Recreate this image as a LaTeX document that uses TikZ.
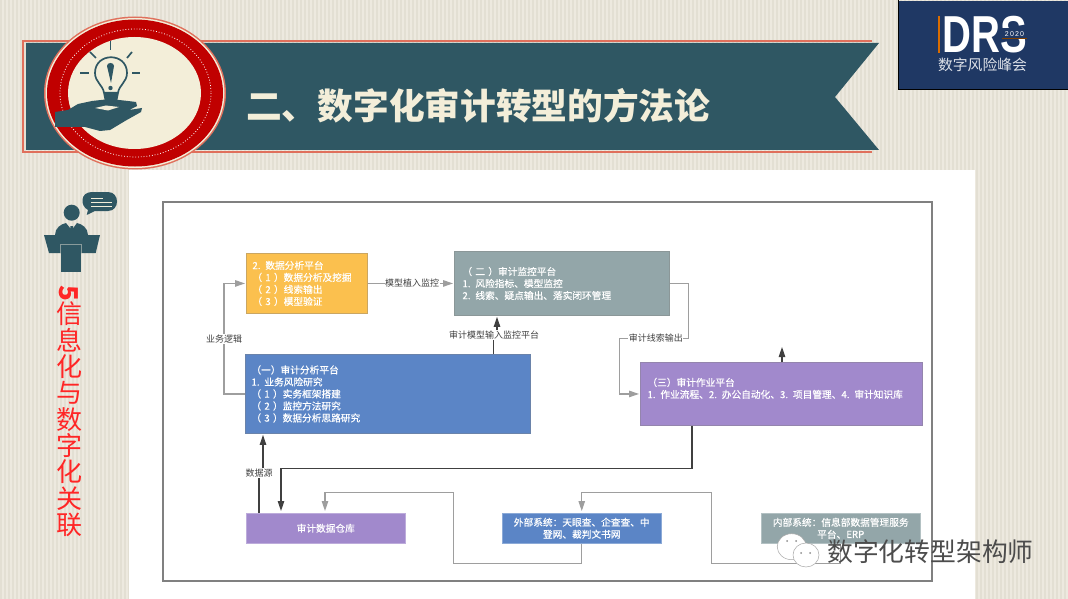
\documentclass[tikz,border=0pt]{standalone}
\usepackage{fontspec}
\setmainfont{Noto Sans CJK SC}
\newfontfamily\boxfont[FakeBold=0.5]{Noto Sans CJK SC}
\newfontfamily\logofont{Liberation Sans}
\usetikzlibrary{arrows.meta}
\definecolor{paper}{HTML}{EDE9DF}
\definecolor{paperline}{HTML}{E3DFD3}
\definecolor{teal}{HTML}{2F5763}
\definecolor{cream}{HTML}{F3EED9}
\definecolor{ribbon}{HTML}{E0705C}
\definecolor{seal}{HTML}{C00000}
\definecolor{navy}{HTML}{1F3864}
\definecolor{amber}{HTML}{FBC04E}
\definecolor{slate}{HTML}{93A6A9}
\definecolor{cobalt}{HTML}{5B85C6}
\definecolor{violet}{HTML}{A189CC}
\tikzset{
	flowbox/.style={draw=#1!60!gray, fill=#1, line width=0.9pt, anchor=north west, inner xsep=6pt, inner ysep=0pt, align=left, text=white, font=\boxfont\fontsize{9.7}{12}\selectfont},
	flatbox/.style={fill=#1, draw=#1!70!white, line width=0.5pt, anchor=north west, inner sep=0pt, align=center, text=white, font=\boxfont\fontsize{9.7}{12}\selectfont},
	linelabel/.style={fill=white, inner xsep=0.5pt, inner ysep=1pt, text=black!75, font=\fontsize{9}{11}\selectfont},
	greylink/.style={draw=black!38, line width=1.1pt, -{Triangle[length=10pt,width=6.5pt]}},
	darklink/.style={draw=black!75, line width=1.1pt, -{Triangle[length=10pt,width=6.5pt]}},
	ray/.style={draw=teal, line width=1.7pt}
}
\begin{document}
\begin{tikzpicture}[x=1pt,y=-1pt]
	\useasboundingbox (0,0) rectangle (1068,599);
	\fill[paper] (0,0) rectangle (1068,599);
	\foreach \x in {0,4,...,1064} {
			\fill[paperline] (\x,0) rectangle ++(2,599);
		}
	\fill[white] (129,170) rectangle (975,599);

	\draw[ribbon, line width=1.5pt] (872,41) -- (23,41) -- (23,152) -- (872,152);
	\fill[teal] (26,43) -- (879,43) -- (835,97) -- (879,150) -- (26,150) -- cycle;
	\node[anchor=west, inner sep=0pt, text=cream, font=\fontsize{35.7}{40}\selectfont\bfseries] (title) at (246,106) {二、数字化审计转型的方法论};

	\fill[ribbon] (135,93) ellipse [x radius=91, y radius=76.5];
	\fill[cream] (135,93) ellipse [x radius=89.5, y radius=75];
	\fill[seal] (135,93) ellipse [x radius=88, y radius=73.5];
	\draw[white, line width=0.8pt, dotted] (135.5,93) ellipse [x radius=75.5, y radius=64];
	\fill[cream] (134.5,93) ellipse [x radius=66.5, y radius=56];

	\draw[ray] (110.5,41) -- (110.5,50);
	\draw[ray] (90,52) -- (96,58);
	\draw[ray] (132,52) -- (127,58);
	\draw[ray] (80,73) -- (89,73);
	\draw[ray] (132,73) -- (140,73);
	\draw[ray] (104,93) .. controls (103,85) and (95,82) .. (95,73) .. controls (95,52) and (127,52) .. (127,73) .. controls (127,82) and (119,85) .. (118,93);
	\fill[teal] (107,66) .. controls (107,62) and (114,62) .. (114,66) -- (111,83) -- cycle;
	\fill[teal] (110.5,88) circle (2.2);
	\fill[teal] (103,92) -- (119,92) -- (117,102) -- (105,102) -- cycle;
	\fill[teal] (55,112) -- (68,110) -- (78,104) -- (92,101) -- (110,99) -- (128,101) -- (136,102) -- (137,106) -- (129,110) -- (142,108) -- (141,112) -- (125,121) -- (110,130) -- (100,131) -- (85,127) -- (72,127) -- (55,127) -- cycle;
	\fill[cream] (95,108) -- (106,105.5) -- (119,107) -- (108,110.5) -- cycle;

	\fill[navy] (898,1) rectangle (1068,89);
	\draw[black, line width=0.8pt] (898,0) -- (898,89) -- (1068,89);
	\node[inner sep=0pt, text=white, font=\fontsize{52}{52}\logofont\bfseries] (drs) at (984.5,34.5) {\scalebox{.77}[1]{DRS}};
	\fill[navy] (1001,28) rectangle (1028,38);
	\fill[orange!85!black] (937.5,16) rectangle (940,53);
	\fill[black!50!orange] (1002,38) rectangle (1027,39.5);
	\node[inner sep=0pt, text=white, font=\fontsize{7}{8}\logofont] (year) at (1014.5,34) {2\,0\,2\,0};
	\node[inner sep=0pt, text=white!85!navy, font=\fontsize{14.8}{16}\selectfont] (brand) at (982.5,65) {数字风险峰会};

	\fill[teal] (71.7,212.7) circle (8);
	\fill[teal] (55,235) .. controls (55,228) and (61,224) .. (66,223) -- (71.7,230) -- (77,223) .. controls (82,224) and (88,228) .. (88,235) -- cycle;
	\fill[teal] (70.5,226) -- (73,226) -- (74,235) -- (69.5,235) -- cycle;
	\fill[teal] (44,235) -- (100,235) -- (95.7,253) -- (49,253) -- cycle;
	\fill[teal] (60.7,244) rectangle (81.3,271.7);
	\draw[paperline!50!teal, line width=0.5pt] (60.7,253) -- (60.7,244) -- (81.3,244) -- (81.3,253);
	\fill[teal] (92,192) -- (108,192) .. controls (120,192) and (120,211) .. (108,211) -- (95,211) -- (86.7,215) -- (88,210) .. controls (80,206) and (80,192) .. (92,192) -- cycle;
	\foreach \y/\e in {198/103,202/112,206/112} {
			\draw[cream, line width=0.8pt] (91,\y) -- (\e,\y);
		}
	\node[inner sep=0pt, align=center, text=red!85!white, font=\fontsize{26}{26.3}\selectfont] (topic) at (69,411) {\rotatebox{-90}{\bfseries 5}\\信\\息\\化\\与\\数\\字\\化\\关\\联};

	\draw[black!50, line width=1.2pt] (163,202) rectangle (932,581);

	\node[flowbox=amber, minimum width=121pt, minimum height=60pt, text width=109pt] (analysis) at (246,253) {2. 数据分析平台\\（ 1 ）数据分析及挖掘\\（ 2 ）线索输出\\（ 3 ）模型验证};
	\node[flowbox=slate, minimum width=215pt, minimum height=64pt, text width=199pt, inner xsep=8pt] (monitor) at (454,251) {（ 二 ）审计监控平台\\1. 风险指标、模型监控\\2. 线索、疑点输出、落实闭环管理};
	\node[flowbox=cobalt, minimum width=285pt, minimum height=79pt, text width=273pt] (research) at (245,354) {（一）审计分析平台\\1. 业务风险研究\\（ 1 ）实务框架搭建\\（ 2 ）监控方法研究\\（ 3 ）数据分析思路研究};
	\node[flowbox=violet, minimum width=282pt, minimum height=63pt, text width=268pt, inner xsep=7pt] (operate) at (640,362) {（三）审计作业平台\\1. 作业流程、2. 办公自动化、3. 项目管理、4. 审计知识库\\~};
	\node[flatbox=violet, minimum width=159pt, minimum height=30pt] (store) at (246,513) {审计数据仓库};
	\node[flatbox=cobalt, minimum width=159pt, minimum height=30pt, text width=150pt] (external) at (502,513) {外部系统：天眼查、企查查、中\\登网、裁判文书网};
	\node[flatbox=slate, minimum width=159pt, minimum height=30pt, text width=150pt] (internal) at (761,513) {内部系统：信息部数据管理服务\\平台、ERP};

	\coordinate (operateout) at (782,347);

	\draw[greylink] (research.west) -- ++(-21,0) |- node[linelabel, pos=0.25] (logiclabel) {业务逻辑} ([xshift=-1pt]analysis.west);
	\draw[greylink] (analysis.east) -- node[linelabel, pos=0.52] (plantlabel) {模型植入监控} ([xshift=-1pt]monitor.west);
	\draw[darklink] ([xshift=-37pt]research.north east) -- ++(0,-19) -| node[linelabel, pos=0.02] (inputlabel) {审计模型输入监控平台} ([xshift=43pt,yshift=-1pt]monitor.south west);
	\draw[greylink] (monitor.east) -- ++(19,0) |- ++(-69,55) node[linelabel, pos=0.74] (cluelabel) {审计线索输出} |- ([xshift=-1pt]operate.west);
	\draw[darklink] ([xshift=142pt]operate.north west) -- (operateout);
	\draw[darklink] ([xshift=52pt]operate.south west) |- ++(-411,43) -- ([xshift=35pt,yshift=2pt]store.north west);
	\draw[darklink] ([xshift=13pt]store.north west) -- ++(0,-40) -| node[linelabel, pos=0.02] (sourcelabel) {数据源} ([xshift=18pt,yshift=-1pt]research.south west);
	\draw[greylink] (external.south) -- ++(0,20) -| ++(-128,-71) -| ([xshift=79pt,yshift=2pt]store.north west);
	\draw[greylink] (internal.south) -- ++(0,20) -| ++(-129,-71) -| ([yshift=2pt]external.north);

	\draw[black!35, fill=white, line width=0.5pt] (791.7,546.7) ellipse [x radius=14.5, y radius=13];
	\draw[black!35, fill=white, line width=0.5pt] (806,555) ellipse [x radius=13, y radius=12];
	\foreach \px/\py in {787/541,796/541,801/553,810/553} {
			\fill[black!45] (\px,\py) circle (1);
		}
	\node[anchor=west, inner sep=0pt, text=black!70, font=\fontsize{25.8}{28}\selectfont] (watermark) at (827,552) {数字化转型架构师};
\end{tikzpicture}
\end{document}
